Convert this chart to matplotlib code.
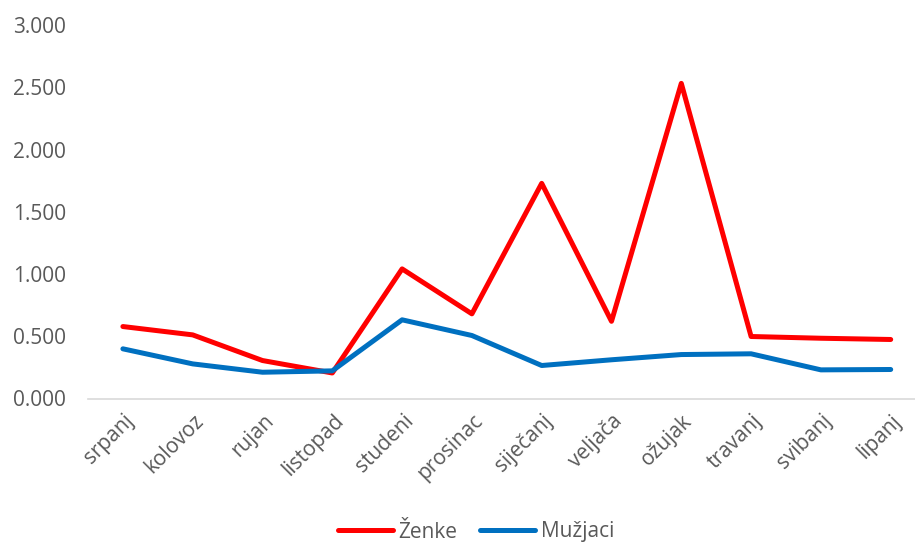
import matplotlib
matplotlib.use('Agg')
import matplotlib.pyplot as plt
import matplotlib.transforms as mtransforms

months = ['srpanj', 'kolovoz', 'rujan', 'listopad', 'studeni', 'prosinac',
          'siječanj', 'veljača', 'ožujak', 'travanj', 'svibanj', 'lipanj']
zenke = [0.578, 0.511, 0.305, 0.205, 1.041, 0.680,
         1.728, 0.620, 2.531, 0.498, 0.484, 0.474]
muzjaci = [0.399, 0.278, 0.211, 0.222, 0.632, 0.506,
           0.265, 0.311, 0.353, 0.359, 0.230, 0.233]
yticks = [0, 0.5, 1.0, 1.5, 2.0, 2.5, 3.0]

GREY = '#595959'
plt.rcParams['font.family'] = ['Open Sans', 'DejaVu Sans']

fig = plt.figure(figsize=(9.15, 5.43), dpi=100)
ax = fig.add_axes([88 / 915, 144.5 / 543, 837.6 / 915, 373.5 / 543])

x = list(range(len(months)))
ax.plot(x, zenke, color='#FF0000', linewidth=3.6, solid_capstyle='round',
        solid_joinstyle='round', label='Ženke')
ax.plot(x, muzjaci, color='#0070C0', linewidth=3.6, solid_capstyle='round',
        solid_joinstyle='round', label='Mužjaci')

ax.set_xlim(-0.5, len(months) - 0.5)
ax.set_ylim(0, 3.0)
ax.set_yticks(yticks)
ax.set_yticklabels([f'{v:.3f}' for v in yticks])
ax.set_xticks(x)
ax.set_xticklabels(months)

for s in ['top', 'right', 'left']:
    ax.spines[s].set_visible(False)
ax.spines['bottom'].set_color('#D9D9D9')
ax.spines['bottom'].set_linewidth(1.2)
ax.tick_params(axis='both', length=0, colors=GREY, labelsize=15)
ax.tick_params(axis='y', pad=16)
ax.tick_params(axis='x', pad=14)

# excel-style slanted month labels, right end just past the tick
offset = mtransforms.ScaledTranslation(8 / 100, 0, fig.dpi_scale_trans)
for lbl in ax.get_xticklabels():
    lbl.set_rotation(45)
    lbl.set_ha('right')
    lbl.set_va('center')
    lbl.set_rotation_mode('anchor')
    lbl.set_transform(lbl.get_transform() + offset)

fig.legend(loc='center', bbox_to_anchor=(476 / 915, 1 - 532 / 543), ncol=2,
           frameon=False, fontsize=15, handlelength=2.65, handletextpad=0.25,
           columnspacing=1.1, labelcolor=GREY)

fig.savefig('out.png', dpi=100)
